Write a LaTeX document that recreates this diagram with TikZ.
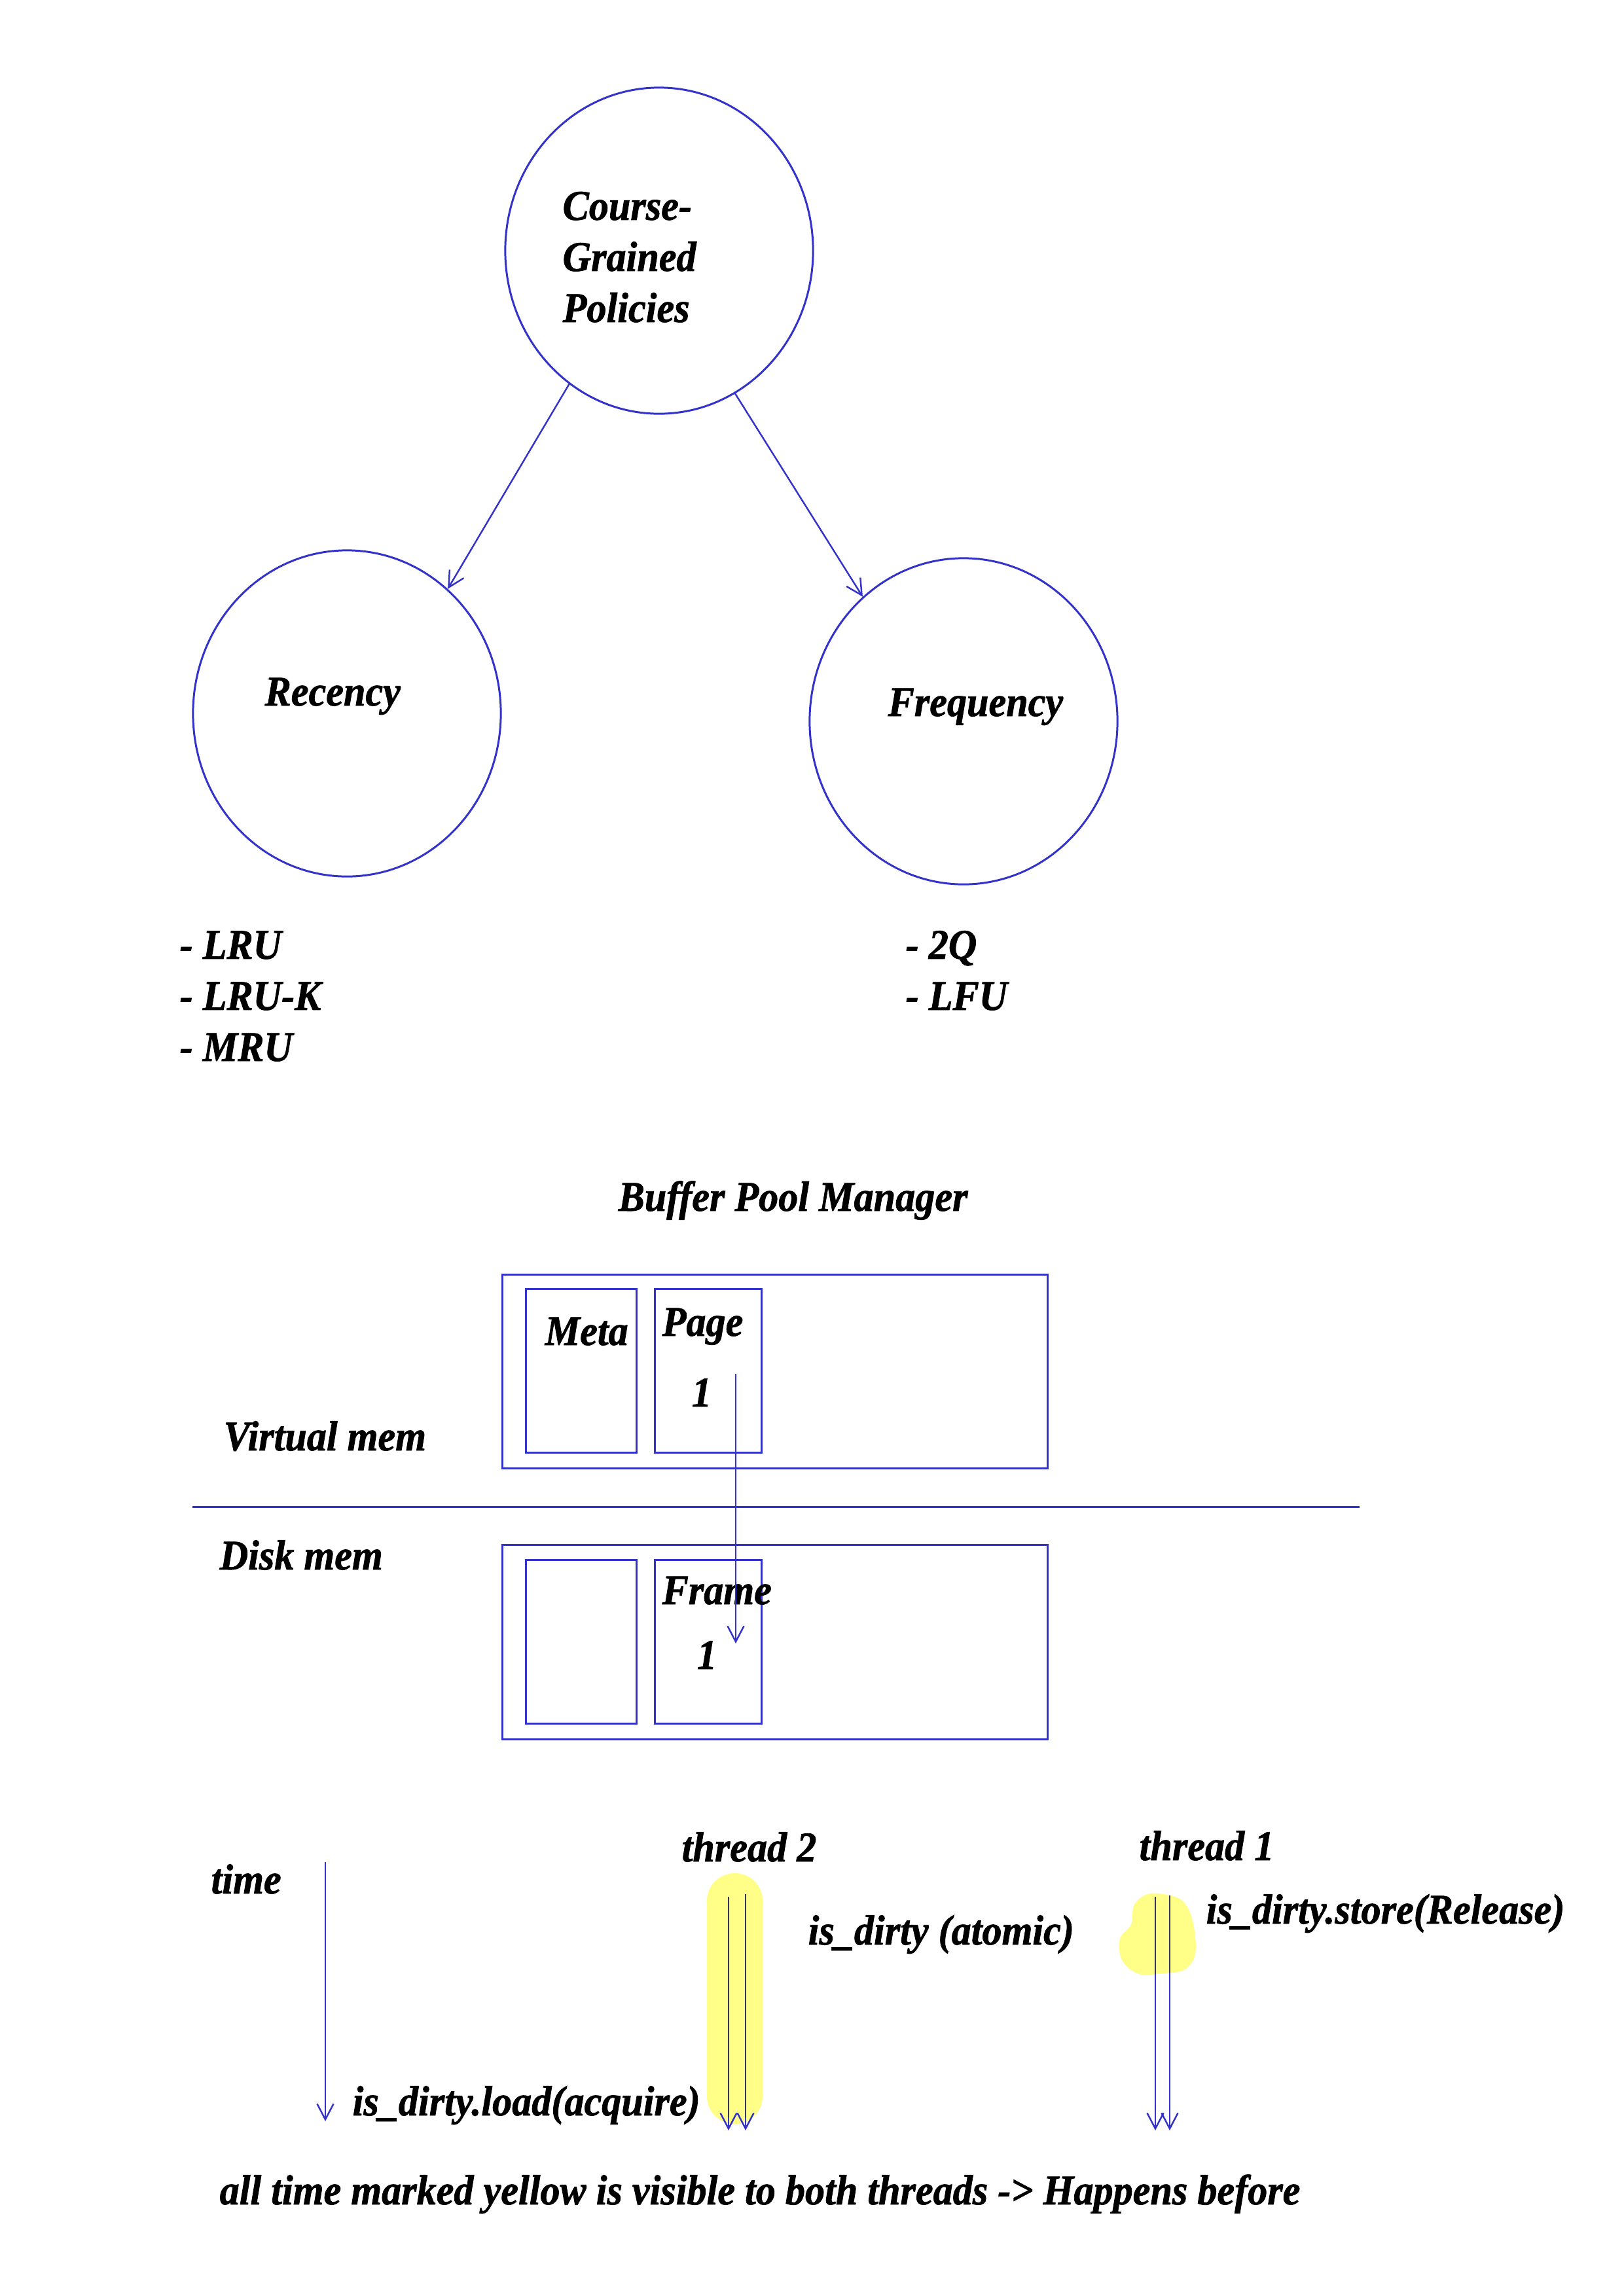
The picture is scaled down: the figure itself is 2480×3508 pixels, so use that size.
\documentclass[tikz,border=0pt]{standalone}
\usepackage{fontspec}
\setmainfont{Liberation Serif}
\newfontfamily\lblfont{Liberation Serif}[UprightFont={* Bold Italic}, FakeStretch=0.93, FakeBold=1.2]
\usetikzlibrary{shapes.geometric,arrows.meta}
\definecolor{linecol}{RGB}{51,51,204}
\definecolor{hl}{RGB}{255,255,136}
\definecolor{darkline}{RGB}{51,51,102}
\begin{document}
\begin{tikzpicture}[x=0.01cm,y=-0.01cm,
  lbl/.style={font=\lblfont\fontsize{18.4}{22.2}\selectfont, inner sep=0pt, text=black},
  bubble/.style={ellipse, draw=linecol, line width=0.85pt, minimum width=4.7cm, minimum height=4.98cm, inner sep=0pt},
  box/.style={rectangle, draw=linecol, line width=0.85pt, inner sep=0pt},
  conn/.style={draw=linecol, line width=0.7pt, -{Straight Barb[length=2.4mm,width=2.5mm]}},
  plainline/.style={draw=linecol, line width=0.85pt},
  darkseg/.style={draw=darkline, line width=0.7pt},
]
\useasboundingbox (0,0) rectangle (2480,3508);
\fill[white] (0,0) rectangle (2480,3508);

% ---- policies ----
\node[bubble] (cgp) at (1007,383) {};
\node[bubble] (rec) at (530,1090) {};
\node[bubble] (frq) at (1472,1102) {};
\node[lbl, anchor=base west, align=left] (cgpt) at (859,492) {Course-\\Grained\\Policies};
\node[lbl, anchor=base west] (rect) at (404,1078) {Recency};
\node[lbl, anchor=base west] (frqt) at (1356,1094) {Frequency};
\draw[conn] (cgp.236) -- (rec.51);
\draw[conn] (cgp.298.6) -- (frq.129.9);
\node[lbl, anchor=base west, align=left] (recl) at (274,1621) {- LRU\\- LRU-K\\- MRU};
\node[lbl, anchor=base west, align=left] (frql) at (1383,1543) {- 2Q\\- LFU};

% ---- buffer pool ----
\node[lbl, anchor=base west] (bpm) at (944,1850) {Buffer Pool Manager};
\node[box, minimum width=8.32cm, minimum height=2.95cm] (vbox) at (1184,2095.5) {};
\node[box, minimum width=1.68cm, minimum height=2.49cm] (meta) at (888,2094.5) {};
\node[box, minimum width=1.62cm, minimum height=2.49cm] (page) at (1082,2094.5) {};
\node[lbl, anchor=base west] (metat) at (832,2055) {Meta};
\node[lbl, anchor=base west] (paget) at (1011,2041) {Page};
\node[lbl, anchor=base] (page1) at (1072,2149) {1};
\node[lbl, anchor=base west] (vmem) at (341,2216) {Virtual mem};
\coordinate (sepl) at (294,2302);
\coordinate (sepr) at (2077,2302);
\draw[plainline] (sepl) -- (sepr);
\node[lbl, anchor=base west] (dmem) at (335,2398) {Disk mem};
\node[box, minimum width=8.32cm, minimum height=2.96cm] (dbox) at (1184,2509) {};
\node[box, minimum width=1.68cm, minimum height=2.49cm] (dmeta) at (888,2508.5) {};
\node[box, minimum width=1.62cm, minimum height=2.49cm] (frame) at (1082,2508.5) {};
\node[lbl, anchor=base west] (framet) at (1011,2451) {Frame};
\node[lbl, anchor=base] (frame1) at (1080,2550) {1};
\coordinate (pgs) at (1124,2099);
\coordinate (pge) at (1124,2511);
\draw[conn] (pgs) -- (pge);

% ---- threads ----
\fill[hl, rounded corners=0.42cm] (1080,2862) rectangle (1165,3245);
\fill[hl] plot[smooth cycle, tension=0.6] coordinates {(1770,2893) (1805,2903) (1822,2935) (1826,2985) (1808,3010) (1775,3015) (1740,3016) (1714,2995) (1711,2962) (1728,2940) (1732,2912) (1748,2896)};

\node[lbl, anchor=base west] (timet) at (322,2893) {time};
\coordinate (tms) at (497,2845);
\coordinate (tme) at (497,3241);
\draw[conn] (tms) -- (tme);

\node[lbl, anchor=base west] (th2) at (1041,2844) {thread 2};
\node[lbl, anchor=base west] (th1) at (1740,2842) {thread 1};
\coordinate (t2as) at (1113,2898);
\coordinate (t2ae) at (1113,3255);
\coordinate (t2bs) at (1139,2894);
\coordinate (t2be) at (1139,3255);
\coordinate (t1as) at (1765,2898);
\coordinate (t1ae) at (1765,3255);
\coordinate (t1bs) at (1787,2896);
\coordinate (t1be) at (1787,3255);
\draw[conn] (t2as) -- (t2ae);
\draw[conn] (t2bs) -- (t2be);
\draw[conn] (t1as) -- (t1ae);
\draw[conn] (t1bs) -- (t1be);
\begin{scope}
\clip[rounded corners=0.42cm] (1080,2862) rectangle (1165,3245);
\draw[darkseg] (t2as) -- (1113,3235);
\draw[darkseg] (t2bs) -- (1139,3235);
\end{scope}
\begin{scope}
\clip plot[smooth cycle, tension=0.6] coordinates {(1770,2893) (1805,2903) (1822,2935) (1826,2985) (1808,3010) (1775,3015) (1740,3016) (1714,2995) (1711,2962) (1728,2940) (1732,2912) (1748,2896)};
\draw[darkseg] (t1as) -- (1765,3100);
\draw[darkseg] (t1bs) -- (1787,3100);
\end{scope}

\node[lbl, anchor=base west] (atom) at (1234,2971) {is\_dirty (atomic)};
\node[lbl, anchor=base west] (store) at (1842,2939) {is\_dirty.store(Release)};
\node[lbl, anchor=base west] (load) at (538,3232) {is\_dirty.load(acquire)};
\node[lbl, anchor=base west] (note) at (335,3368) {all time marked yellow is visible to both threads -> Happens before};
\end{tikzpicture}
\end{document}
